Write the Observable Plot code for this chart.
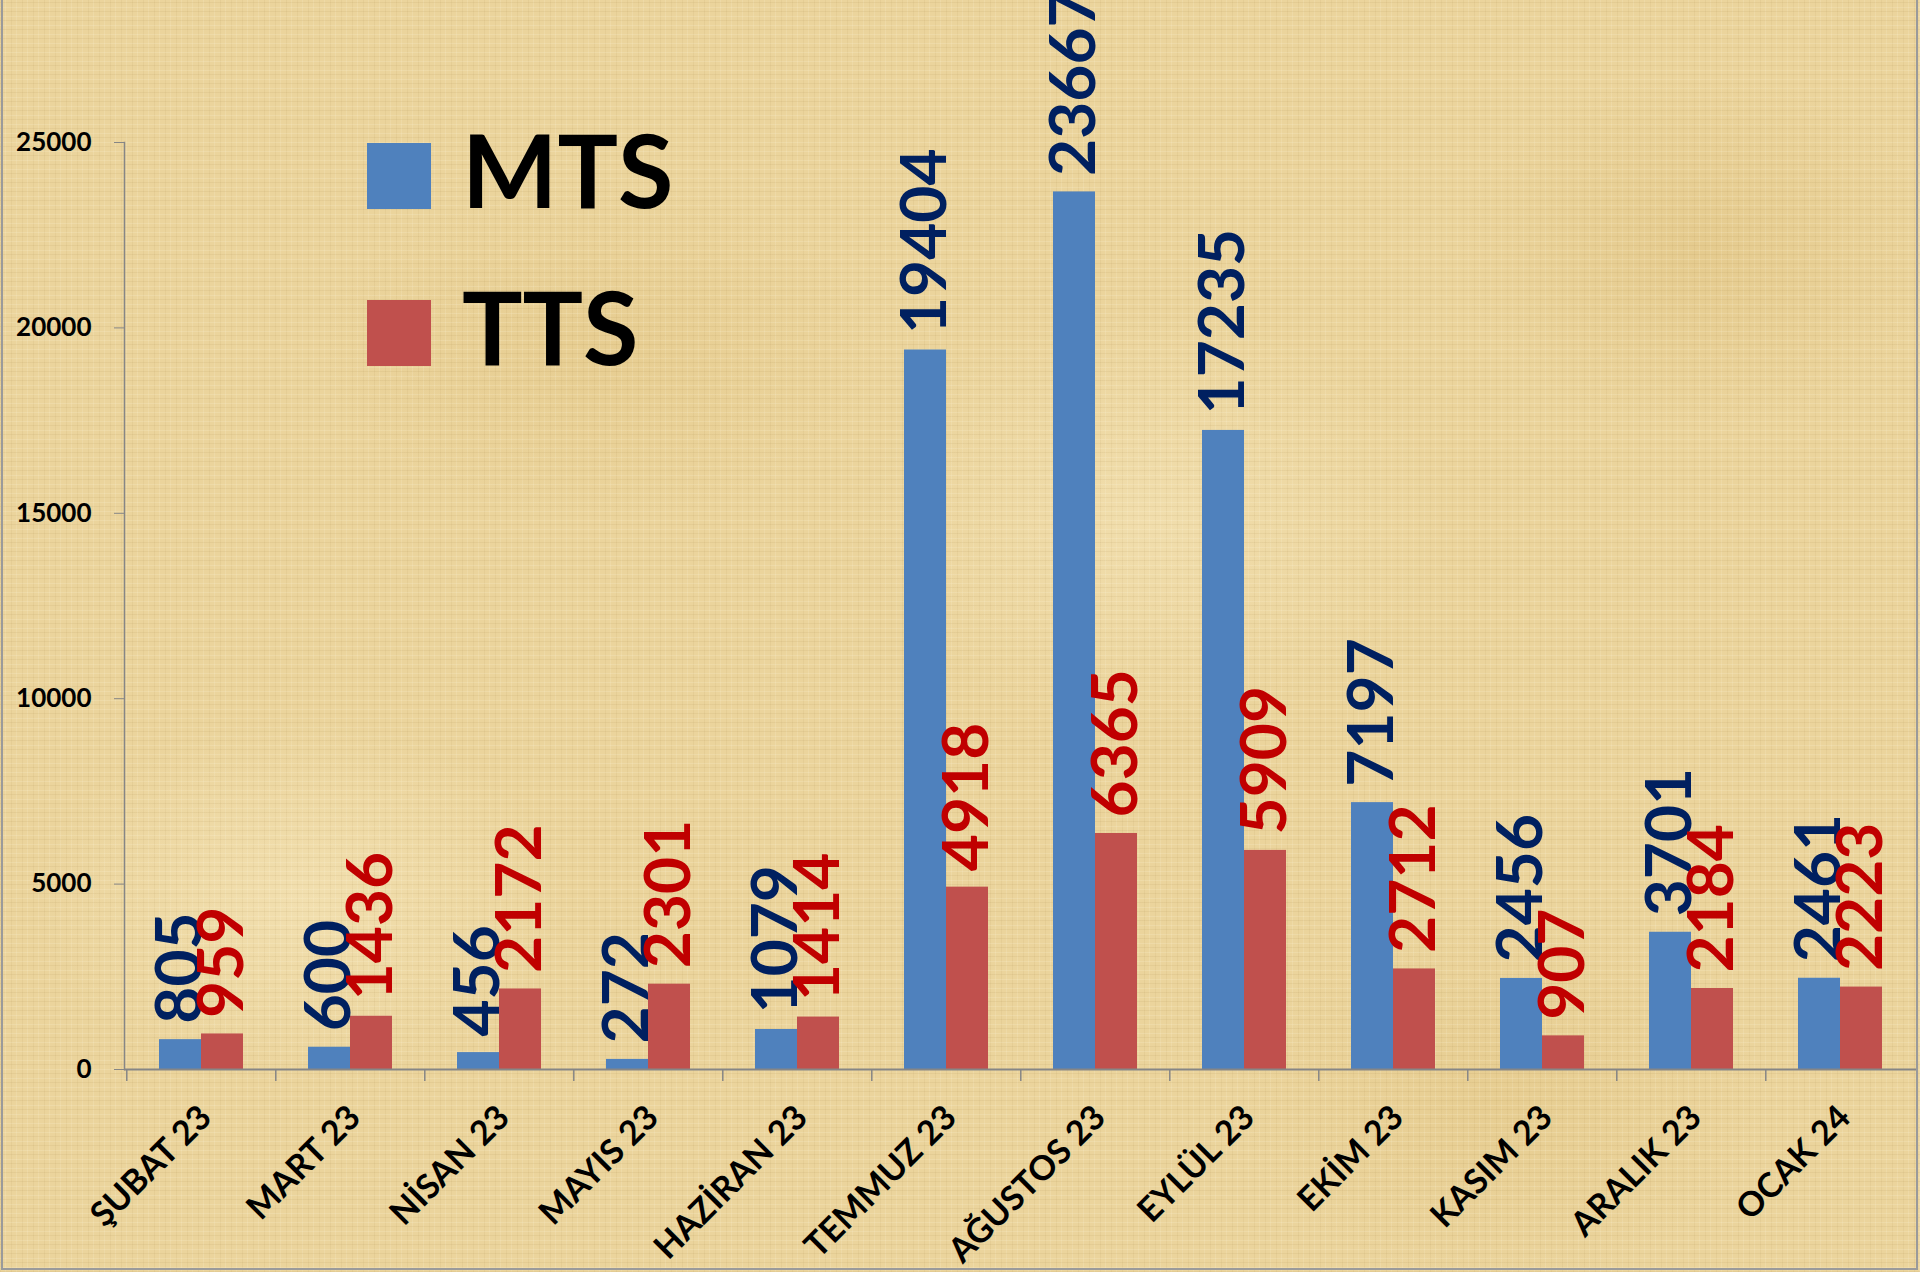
<!DOCTYPE html>
<html>
<head>
<meta charset="utf-8">
<script src="https://cdn.jsdelivr.net/npm/d3@7"></script>
<script src="https://cdn.jsdelivr.net/npm/@observablehq/plot@0.6"></script>
<style>
html, body { margin: 0; padding: 0; }
body {
  width: 1920px; height: 1272px; overflow: hidden; position: relative;
  font-family: Lato, "Open Sans", sans-serif;
  background-color: #EBD49C;
  background-image:
    repeating-linear-gradient(0deg, rgba(130,95,30,0.07) 0px, rgba(130,95,30,0.07) 1px, transparent 1px, transparent 4px, rgba(255,250,228,0.16) 4px, rgba(255,250,228,0.16) 5px, transparent 5px, transparent 9px),
    repeating-linear-gradient(90deg, rgba(130,95,30,0.06) 0px, rgba(130,95,30,0.06) 1px, transparent 1px, transparent 5px, rgba(255,250,228,0.14) 5px, rgba(255,250,228,0.14) 6px, transparent 6px, transparent 11px),
    radial-gradient(ellipse 380px 260px at 300px 900px, rgba(255,244,210,0.35), transparent 70%),
    radial-gradient(ellipse 420px 300px at 1150px 520px, rgba(255,244,210,0.30), transparent 70%),
    radial-gradient(ellipse 350px 250px at 1700px 250px, rgba(210,175,100,0.25), transparent 70%),
    radial-gradient(ellipse 400px 240px at 600px 350px, rgba(215,180,105,0.22), transparent 70%),
    radial-gradient(ellipse 380px 260px at 1500px 1100px, rgba(215,180,105,0.22), transparent 70%);
}
#chart { position: absolute; left: 0; top: 0; }
#border {
  position: absolute; left: 1px; top: -10px; width: 1917px; height: 1280px;
  border: 2px solid #9a9a9a; box-sizing: border-box; pointer-events: none;
}
#legend { position: absolute; left: 367px; top: 97px; }
#legend .row { display: flex; align-items: center; height: 157px; }
#legend .sw { width: 64px; height: 66px; margin-right: 31px; }
#legend .lab { font-family: Lato, sans-serif; font-weight: 700; font-size: 101px; line-height: 1; color: #000; position: relative; top: -6px; }
</style>
</head>
<body>
<div id="chart"></div>
<div id="legend"></div>
<div id="border"></div>
<script>
// ---- data ----
const months = ["ŞUBAT 23", "MART 23", "NİSAN 23", "MAYIS 23", "HAZİRAN 23", "TEMMUZ 23", "AĞUSTOS 23", "EYLÜL 23", "EKİM 23", "KASIM 23", "ARALIK 23", "OCAK 24"];
const mts = [805, 600, 456, 272, 1079, 19404, 23667, 17235, 7197, 2456, 3701, 2461];
const tts = [959, 1436, 2172, 2301, 1414, 4918, 6365, 5909, 2712, 907, 2184, 2223];
const seriesNames = ["MTS", "TTS"];
const seriesColors = ["#4F81BD", "#C0504D"];
const labelColors = ["#002060", "#C00000"];
const yTicks = [0, 5000, 10000, 15000, 20000, 25000];

const rows = months.map((m, i) => ({month: m, MTS: mts[i], TTS: tts[i]}));

const axisGray = "#868686";
const halfStep = (1920 - 124 - 3) / months.length / 2;

const chart = Plot.plot({
  width: 1920,
  height: 1272,
  marginLeft: 124,
  marginRight: 3,
  marginTop: 142,
  marginBottom: 203,
  style: {background: "transparent", fontFamily: "Lato, sans-serif", fontWeight: "bold", color: "black"},
  x: {domain: months, paddingInner: 0.4378, paddingOuter: 0.2189, label: null},
  y: {domain: [0, 25000], label: null},
  marks: [
    Plot.barY(rows, {x: "month", y: "MTS", fill: seriesColors[0], insetRight: 42}),
    Plot.barY(rows, {x: "month", y: "TTS", fill: seriesColors[1], insetLeft: 42}),
    Plot.frame({anchor: "left", stroke: axisGray, strokeWidth: 1.5}),
    Plot.ruleY([0], {stroke: axisGray, strokeWidth: 2}),
    Plot.axisY({ticks: yTicks, tickSize: 10, tickPadding: 23, stroke: axisGray, fill: "black", fontSize: 26, fontWeight: "bold", tickFormat: d => String(d)}),
    Plot.axisX({tickSize: 12, stroke: axisGray, strokeWidth: 1.5, fill: "none", dx: -halfStep}),
    Plot.axisX({tickSize: 0, tickPadding: 33, tickRotate: -45, textAnchor: "end", lineAnchor: "top", dx: -5, fontSize: 34, fontWeight: "bold", fill: "black"}),
    Plot.text(rows, {x: "month", y: "MTS", text: d => String(d.MTS), rotate: -90, textAnchor: "start", lineAnchor: "middle", dx: -21, dy: -16, fill: labelColors[0], fontSize: 64, fontWeight: "bold"}),
    Plot.text(rows, {x: "month", y: "TTS", text: d => String(d.TTS), rotate: -90, textAnchor: "start", lineAnchor: "middle", dx: 21, dy: -16, fill: labelColors[1], fontSize: 64, fontWeight: "bold"})
  ]
});
document.getElementById("chart").appendChild(chart);

const legend = document.getElementById("legend");
seriesNames.forEach((name, i) => {
  const row = document.createElement("div");
  row.className = "row";
  const sw = document.createElement("div");
  sw.className = "sw";
  sw.style.background = seriesColors[i];
  const lab = document.createElement("div");
  lab.className = "lab";
  lab.textContent = name;
  row.appendChild(sw);
  row.appendChild(lab);
  legend.appendChild(row);
});
</script>
</body>
</html>
